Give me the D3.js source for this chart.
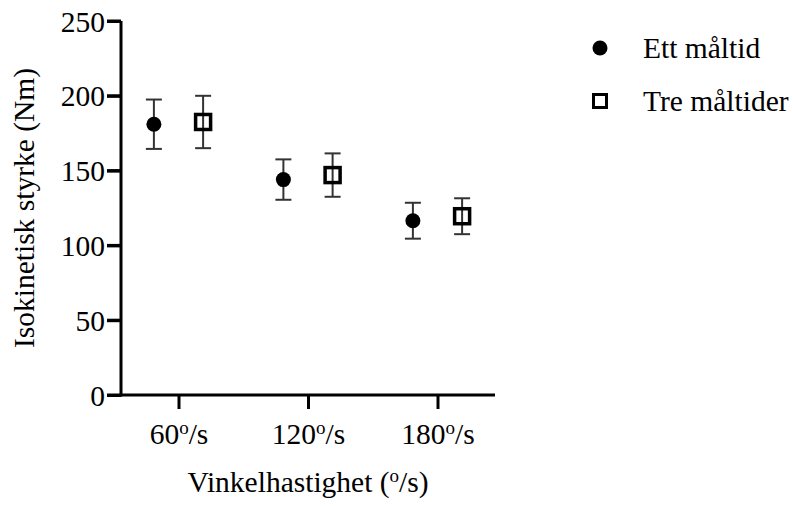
<!DOCTYPE html>
<html>
<head>
<meta charset="utf-8">
<script src="https://cdn.jsdelivr.net/npm/d3@7"></script>
<style>
    body { margin: 0; background: #fff; }
    svg text { font-family: "Liberation Serif", "Times New Roman", serif; fill: #000; }
</style>
</head>
<body>
<div id="chart"></div>
<script>
var categories = ['60', '120', '180'];
var seriesNames = ['Ett måltid', 'Tre måltider'];
var meanEtt = [181, 144, 116.5];
var errEtt = [16.5, 13.5, 12];
var meanTre = [182.5, 147, 119.5];
var errTre = [17.5, 14.5, 12];
var yTicks = [0, 50, 100, 150, 200, 250];

var width = 793,
    height = 506,
    margin = { left: 121, right: 298, top: 21, bottom: 111 },
    fontSize = 29.5
;

var svg = d3.select('#chart')
    .append('svg')
    .attr('width', width)
    .attr('height', height)
    .attr('font-family', '"Liberation Serif", "Times New Roman", serif')
;

var x = d3.scalePoint()
    .domain(categories)
    .range([margin.left, width - margin.right])
    .padding(0.444)
;

var y = d3.scaleLinear()
    .domain([0, 250])
    .range([height - margin.bottom, margin.top])
;

var offset = x.step() * 0.19;

var series = [
    { name: seriesNames[0], mean: meanEtt, err: errEtt, shape: 'circle', dx: -offset },
    { name: seriesNames[1], mean: meanTre, err: errTre, shape: 'square', dx: offset }
];

// y axis
var yAxis = svg.append('g')
    .attr('transform', 'translate(' + margin.left + ',0)')
    .call(d3.axisLeft(y).tickValues(yTicks).tickSize(14).tickPadding(2));

// x axis
var xAxis = svg.append('g')
    .attr('transform', 'translate(0,' + y(0) + ')')
    .call(d3.axisBottom(x).tickSize(14).tickFormat(function() { return ''; }));

[yAxis, xAxis].forEach(function(g) {
    g.attr('font-family', null).attr('font-size', null);
    g.select('.domain').attr('stroke', '#000').attr('stroke-width', 3);
    g.selectAll('.tick line').attr('stroke', '#000').attr('stroke-width', 3);
});
// domain lines without the outer ticks
yAxis.select('.domain').attr('d', 'M0,' + (y(0) + 1.5) + 'V' + y(250));
xAxis.select('.domain').attr('d', 'M' + (margin.left - 1.5) + ',0H' + (width - margin.right));

// y tick marks drawn again so they always show
svg.append('g')
    .selectAll('line')
    .data(yTicks)
    .enter()
    .append('line')
    .attr('x1', margin.left - 14)
    .attr('x2', margin.left)
    .attr('y1', function(d) { return y(d); })
    .attr('y2', function(d) { return y(d); })
    .attr('stroke', '#000')
    .attr('stroke-width', 3);

yAxis.selectAll('.tick text')
    .attr('font-size', fontSize)
    .attr('dy', '0.34em');

// category labels with superscript o
xAxis.selectAll('.tick text').remove();
xAxis.selectAll('.tick')
    .append('text')
    .attr('y', 49)
    .attr('text-anchor', 'middle')
    .attr('font-size', fontSize)
    .each(function(d) {
        var t = d3.select(this);
        t.append('tspan').text(d);
        t.append('tspan').attr('font-size', 19).attr('dy', -10).text('o');
        t.append('tspan').attr('dy', 10).text('/s');
    });

// error bars and markers
var groups = svg.selectAll('.series')
    .data(series)
    .enter()
    .append('g')
    .attr('class', 'series');

groups.each(function(s) {
    var g = d3.select(this);
    var pts = categories.map(function(c, i) {
        return { cx: x(c) + s.dx, m: s.mean[i], e: s.err[i] };
    });
    var eb = g.selectAll('.err')
        .data(pts)
        .enter()
        .append('g')
        .attr('class', 'err')
        .attr('stroke', '#333')
        .attr('stroke-width', 2);
    eb.append('line')
        .attr('x1', function(d) { return d.cx; })
        .attr('x2', function(d) { return d.cx; })
        .attr('y1', function(d) { return y(d.m + d.e); })
        .attr('y2', function(d) { return y(d.m - d.e); });
    [1, -1].forEach(function(sign) {
        eb.append('line')
            .attr('x1', function(d) { return d.cx - 8; })
            .attr('x2', function(d) { return d.cx + 8; })
            .attr('y1', function(d) { return y(d.m + sign * d.e); })
            .attr('y2', function(d) { return y(d.m + sign * d.e); });
    });

    if (s.shape === 'circle') {
        g.selectAll('circle')
            .data(pts)
            .enter()
            .append('circle')
            .attr('cx', function(d) { return d.cx; })
            .attr('cy', function(d) { return y(d.m); })
            .attr('r', 7.5)
            .attr('fill', '#000');
    } else {
        g.selectAll('rect')
            .data(pts)
            .enter()
            .append('rect')
            .attr('x', function(d) { return d.cx - 7.5; })
            .attr('y', function(d) { return y(d.m) - 7.5; })
            .attr('width', 15)
            .attr('height', 15)
            .attr('fill', 'none')
            .attr('stroke', '#000')
            .attr('stroke-width', 3.5);
    }
});

// axis titles
svg.append('text')
    .attr('transform', 'translate(34,' + (y(0) + y(250)) / 2 + ') rotate(-90)')
    .attr('text-anchor', 'middle')
    .attr('font-size', fontSize)
    .text('Isokinetisk styrke (Nm)');

var xt = svg.append('text')
    .attr('x', (margin.left + width - margin.right) / 2)
    .attr('y', 492)
    .attr('text-anchor', 'middle')
    .attr('font-size', fontSize);
xt.append('tspan').text('Vinkelhastighet (');
xt.append('tspan').attr('font-size', 19).attr('dy', -10).text('o');
xt.append('tspan').attr('dy', 10).text('/s)');

// legend
var legend = svg.selectAll('.legend')
    .data(series)
    .enter()
    .append('g')
    .attr('class', 'legend')
    .attr('transform', function(d, i) { return 'translate(600,' + (48 + i * 53) + ')'; });

legend.filter(function(d) { return d.shape === 'circle'; })
    .append('circle')
    .attr('r', 7.5)
    .attr('fill', '#000');
legend.filter(function(d) { return d.shape === 'square'; })
    .append('rect')
    .attr('x', -6.5)
    .attr('y', -6.5)
    .attr('width', 13)
    .attr('height', 13)
    .attr('fill', 'none')
    .attr('stroke', '#000')
    .attr('stroke-width', 3);
legend.append('text')
    .attr('x', 43)
    .attr('dy', '0.33em')
    .attr('font-size', fontSize)
    .text(function(d) { return d.name; });
</script>
</body>
</html>
